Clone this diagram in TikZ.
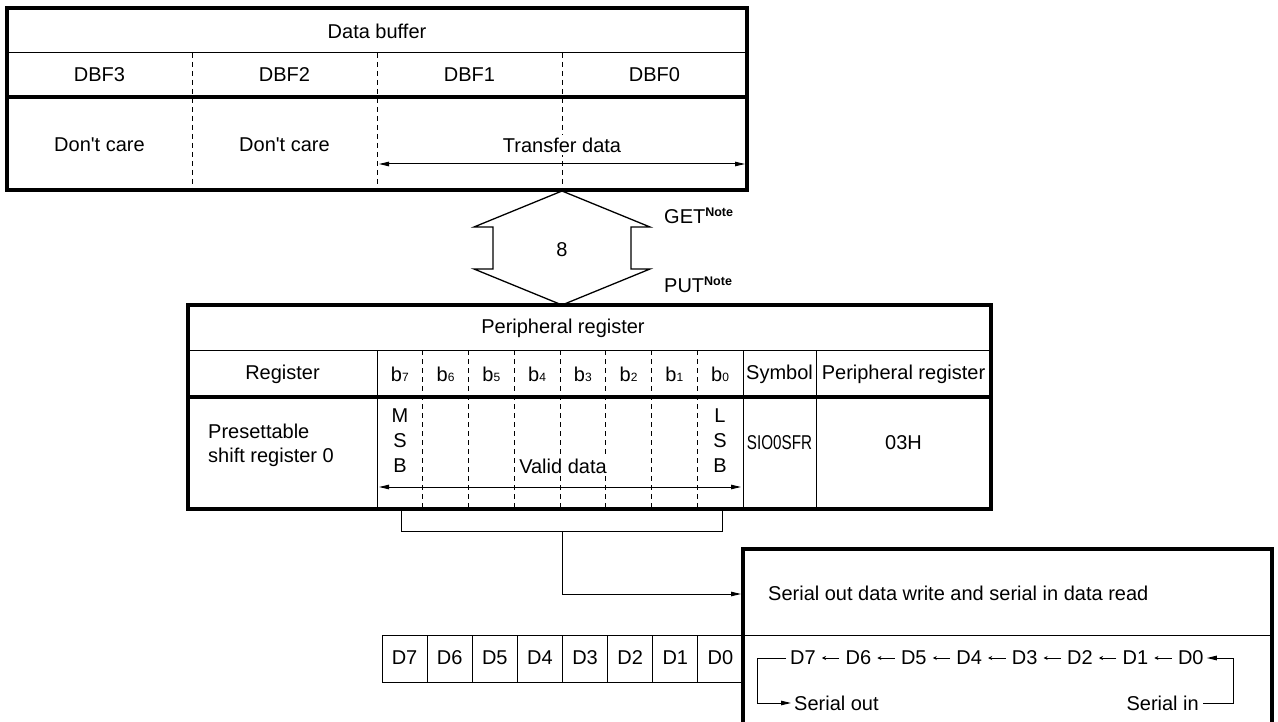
\documentclass[tikz,border=0pt]{standalone}
\usepackage{fontspec}
\setmainfont{Liberation Sans}[Ligatures=TeXOff]
\usepackage{graphicx}
\usetikzlibrary{arrows.meta}
\newcommand\bitlbl[1]{b{\fontsize{12}{12}\selectfont #1}}
\newcommand\notesup{\raisebox{7pt}{\fontsize{12.5}{12}\selectfont\bfseries Note}}
\begin{document}
\begin{tikzpicture}[x=1pt,y=-1pt,
  thickb/.style={line width=3.4pt},
  thinln/.style={line width=1pt},
  dsh/.style={line width=1pt, dash pattern=on 5pt off 4pt},
  txt/.style={font=\fontsize{20}{24}\selectfont, inner sep=0pt},
  tri/.style={-{Triangle[length=10pt,width=4.5pt]}},
  sarr/.style={line width=0.8pt, -{Stealth[length=4pt,width=4pt]}, shorten >=6pt, shorten <=6pt},
]
\useasboundingbox (0,0) rectangle (1278,722);

% ---------------- Data buffer ----------------
\foreach \x in {192,377,562} \draw[dsh] (\x,53) -- (\x,190);
\draw[thinln] (7,53) -- (747,53);
\draw[thickb] (7,97) -- (747,97);
\draw[thickb] (7,8) rectangle (747,190);
\node[txt] (db) at (377,31) {Data buffer};
\node[txt] (dbf3) at (99.5,75) {DBF3};
\node[txt] (dbf2) at (284.5,75) {DBF2};
\node[txt] (dbf1) at (469.5,75) {DBF1};
\node[txt] (dbf0) at (654.5,75) {DBF0};
\node[txt] (dc3) at (99.5,145) {Don't care};
\node[txt] (dc2) at (284.5,145) {Don't care};
\node[txt, fill=white, inner sep=3pt] (td) at (562,145) {Transfer data};
\coordinate (tdl) at (379,164);
\coordinate (tdr) at (745,164);
\draw[thinln, {Triangle[length=10pt,width=4.5pt]}-{Triangle[length=10pt,width=4.5pt]}] (tdl) -- (tdr);

% ---------------- Bus (hexagon) ----------------
\draw[line width=1.3pt, fill=white] (562,191) -- (650,227) -- (631,227) -- (631,269) -- (650,269)
  -- (562,305) -- (474,269) -- (493,269) -- (493,227) -- (474,227) -- cycle;
\node[txt] (eight) at (562,250) {8};
\node[txt, anchor=west] (get) at (664,216) {GET\notesup};
\node[txt, anchor=west] (put) at (664,285) {PUT\notesup};

% ---------------- Peripheral register table ----------------
\foreach \i in {1,...,7} \draw[dsh] (377+45.75*\i,350) -- (377+45.75*\i,509);
\foreach \x in {377,743,816} \draw[thinln] (\x,350) -- (\x,509);
\draw[thinln] (188,350) -- (991,350);
\draw[thickb] (188,397) -- (991,397);
\draw[thickb] (188,305) rectangle (991,509);
\node[txt] (pr) at (563,328) {Peripheral register};
\node[txt] (reg) at (282.5,374) {Register};
\foreach \b [count=\i from 0] in {7,6,5,4,3,2,1,0}
  \node[txt] (bit\b) at (377+45.75*\i+22.875,374) {\bitlbl{\b}};
\node[txt] (sym) at (779.5,374) {Symbol};
\node[txt] (prh) at (903.5,374) {Peripheral register};
\node[txt, anchor=west, align=left] (psr) at (208,445) {Presettable\\shift register 0};
\node[txt, align=center, font=\fontsize{20}{25}\selectfont] (msb) at (400,441) {M\\S\\B};
\node[txt, align=center, font=\fontsize{20}{25}\selectfont] (lsb) at (720,441) {L\\S\\B};
\node[txt, fill=white, inner sep=3pt] (vd) at (563,466) {Valid data};
\coordinate (vdl) at (379,487);
\coordinate (vdr) at (741,487);
\draw[thinln, {Triangle[length=10pt,width=4.5pt]}-{Triangle[length=10pt,width=4.5pt]}] (vdl) -- (vdr);
\node[txt] (sfr) at (779.5,443) {\scalebox{0.76}[1]{SIO0SFR}};
\node[txt] (adr) at (903.5,443) {03H};

% ---------------- Bracket and connector ----------------
\coordinate (brl) at (401,509);
\coordinate (brr) at (722,509);
\coordinate (brm) at (562,531);
\draw[thinln] (brl) -- (401,531) -- (722,531) -- (brr);
\coordinate (boxin) at (741,594);
\draw[thinln, tri] (brm) |- (boxin);

% ---------------- D row ----------------
\draw[thinln] (382,635) -- (1272,635);
\draw[thinln] (382,635) rectangle (743,682);
\foreach \i in {1,...,7} \draw[thinln] (382+45.125*\i,635) -- (382+45.125*\i,682);
\foreach \d [count=\i from 0] in {7,6,5,4,3,2,1,0}
  \node[txt] (d\d) at (382+45.125*\i+22.56,658) {D\d};

% ---------------- Right box ----------------
\draw[thickb] (743,726) -- (743,549) -- (1272,549) -- (1272,726);
\node[txt, anchor=west] (sdw) at (768,593) {Serial out data write and serial in data read};
\foreach \d [count=\i from 0] in {7,6,5,4,3,2,1,0}
  \node[txt] (c\d) at (803+55.4*\i,658) {D\d};
\foreach \a/\b in {6/7,5/6,4/5,3/4,2/3,1/2,0/1}
  \draw[sarr] (c\a.west) -- (c\b.east);
\node[txt, anchor=west] (so) at (794,703) {Serial out};
\node[txt, anchor=east] (si) at (1199,703) {Serial in};
\coordinate (lcorner) at (757,658);
\coordinate (rcorner) at (1233,658);
\draw[thinln, tri] ([xshift=-4pt]c7.west) -- (lcorner) |- ([xshift=-3pt]so.west);
\draw[thinln, tri] ([xshift=4pt]si.east) -| (rcorner) -- ([xshift=3pt]c0.east);
\end{tikzpicture}
\end{document}
